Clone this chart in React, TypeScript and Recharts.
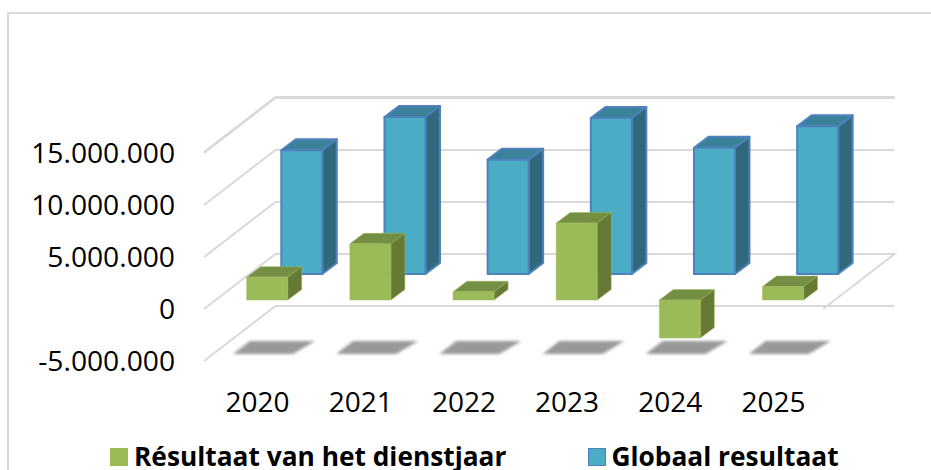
import React from "react";
import {
  BarChart,
  Bar,
  XAxis,
  YAxis,
  CartesianGrid,
  Legend,
} from "recharts";

const YEARS = ["2020", "2021", "2022", "2023", "2024", "2025"];
const RESULTAAT_DIENSTJAAR = [2200000, 5400000, 800000, 7400000, -3650000, 1300000];
const GLOBAAL_RESULTAAT = [11900000, 15100000, 11000000, 15000000, 12150000, 14200000];
// level of the floor the shadows fall on
const SHADOW_LEVEL = [-5000000, -5000000, -5000000, -5000000, -5000000, -5000000];
const Y_TICKS = [-5000000, 0, 5000000, 10000000, 15000000];

const FONT = "'Open Sans', sans-serif";
const GRID = "#d9d9d9";
// oblique projection of the back wall
const WALL_DX = 71.5;
const WALL_DY = -55;

const chartData = YEARS.map((year, i) => ({
  year,
  dienstjaar: RESULTAAT_DIENSTJAAR[i],
  globaal: GLOBAAL_RESULTAAT[i],
  shadow: SHADOW_LEVEL[i],
}));

function box3d(
  colors: { front: string; top: string; side: string; stroke: string; strokeWidth: number },
  offsetX: number,
  offsetY: number,
  depthX: number,
  depthY: number
) {
  return (props: any) => {
    const x = props.x + offsetX;
    const w = props.width;
    const top = Math.min(props.y, props.y + props.height) + offsetY;
    const h = Math.abs(props.height);
    const stroke = { stroke: colors.stroke, strokeWidth: colors.strokeWidth, strokeLinejoin: "round" as const };
    return (
      <g>
        <path
          d={`M${x},${top}L${x + depthX},${top + depthY}L${x + w + depthX},${top + depthY}L${x + w},${top}Z`}
          fill={colors.top}
          {...stroke}
        />
        <path
          d={`M${x + w},${top}L${x + w + depthX},${top + depthY}L${x + w + depthX},${top + h + depthY}L${x + w},${top + h}Z`}
          fill={colors.side}
          {...stroke}
        />
        <rect x={x} y={top} width={w} height={h} fill={colors.front} {...stroke} />
      </g>
    );
  };
}

const GreenBox = box3d(
  { front: "#9BBB59", top: "#748F44", side: "#667A36", stroke: "#9BBB59", strokeWidth: 0.5 },
  11.7,
  -9,
  14,
  -10.5
);

const BlueBox = box3d(
  { front: "#4BACC6", top: "#3A8299", side: "#31697C", stroke: "#4F81BD", strokeWidth: 2 },
  46.3,
  -35,
  14.5,
  -11
);

function FloorShadow(props: any) {
  const x = props.x;
  const floor = Math.max(props.y, props.y + props.height);
  return (
    <path
      d={`M${x - 2},${floor - 7}L${x + 58},${floor - 7}L${x + 80},${floor - 20}L${x + 15},${floor - 20}Z`}
      fill="#999999"
      style={{ filter: "blur(1.5px)" }}
    />
  );
}

function WallLine(props: any) {
  const { x1, x2, y1, index } = props;
  const isFloor = index === 1;
  return (
    <g key={props.key}>
      <path
        d={`M${x1},${y1}L${x1 + WALL_DX},${y1 + WALL_DY}L${x2 + WALL_DX},${y1 + WALL_DY}${
          isFloor ? `L${x2},${y1}` : ""
        }`}
        fill="none"
        stroke={GRID}
        strokeWidth={2}
      />
    </g>
  );
}

function ChartLegend({ payload }: any) {
  const items = (payload ?? [])
    .filter((entry: any) => entry.dataKey !== "shadow")
    .sort((a: any) => (a.dataKey === "dienstjaar" ? -1 : 1));
  return (
    <div
      style={{
        position: "absolute",
        left: 110,
        top: 436,
        width: 800,
        height: 34,
        overflow: "hidden",
        fontFamily: FONT,
        fontWeight: 700,
        fontSize: 26.3,
        lineHeight: "40px",
        color: "#000",
        whiteSpace: "nowrap",
        textAlign: "left",
      }}
    >
      {items.map((entry: any, i: number) => (
        <span
          key={entry.value}
          style={{ position: "absolute", left: i === 0 ? 0 : 477.5, top: 0 }}
        >
          <span
            style={{
              display: "inline-block",
              boxSizing: "border-box",
              width: 18,
              height: 18,
              marginRight: 6,
              background: entry.color,
              border: i === 1 ? "1.5px solid #4F81BD" : "none",
            }}
          />
          {entry.value}
        </span>
      ))}
    </div>
  );
}

export default function App() {
  return (
    <div style={{ position: "absolute", left: 0, top: 0, width: 931, height: 470, overflow: "hidden", background: "#fff" }}>
      <div
        style={{
          position: "absolute",
          left: 7,
          top: 12,
          width: 924,
          height: 458,
          boxSizing: "border-box",
          borderLeft: `2px solid ${GRID}`,
          borderTop: `2px solid ${GRID}`,
        }}
      />
      <BarChart
        width={931}
        height={470}
        data={chartData}
        margin={{ top: 152, right: 108, bottom: 0, left: 0 }}
        style={{ position: "absolute", left: 0, top: 0 }}
      >
        <CartesianGrid xAxisId="green" vertical={false} horizontal={WallLine} />
        <XAxis
          xAxisId="green"
          dataKey="year"
          height={109}
          axisLine={false}
          tickLine={false}
          tickMargin={0}
          tick={{ fill: "#000", fontSize: 28, fontFamily: FONT, dx: 2, dy: -5 }}
        />
        <XAxis xAxisId="blue" dataKey="year" hide />
        <XAxis xAxisId="shadow" dataKey="year" hide />
        <YAxis
          width={204}
          domain={[-5000000, 15000000]}
          ticks={Y_TICKS}
          interval={0}
          axisLine={false}
          tickLine={false}
          tickMargin={23}
          tick={{ fill: "#000", fontSize: 28.2, fontFamily: FONT, dy: 0 }}
          tickFormatter={(v) => Number(v).toLocaleString("de-DE")}
        />
        <Legend
          content={<ChartLegend />}
          verticalAlign="top"
          align="left"
          wrapperStyle={{ position: "absolute", left: 0, top: 0, width: 931, height: 0 }}
        />
        <Bar
          xAxisId="shadow"
          dataKey="shadow"
          barSize={41}
          legendType="none"
          shape={FloorShadow}
          isAnimationActive={false}
        />
        <Bar
          xAxisId="blue"
          dataKey="globaal"
          name="Globaal resultaat"
          barSize={41}
          fill="#4BACC6"
          shape={BlueBox}
          isAnimationActive={false}
        />
        <Bar
          xAxisId="green"
          dataKey="dienstjaar"
          name="Résultaat van het dienstjaar"
          barSize={41}
          fill="#9BBB59"
          shape={GreenBox}
          isAnimationActive={false}
        />
      </BarChart>
    </div>
  );
}
